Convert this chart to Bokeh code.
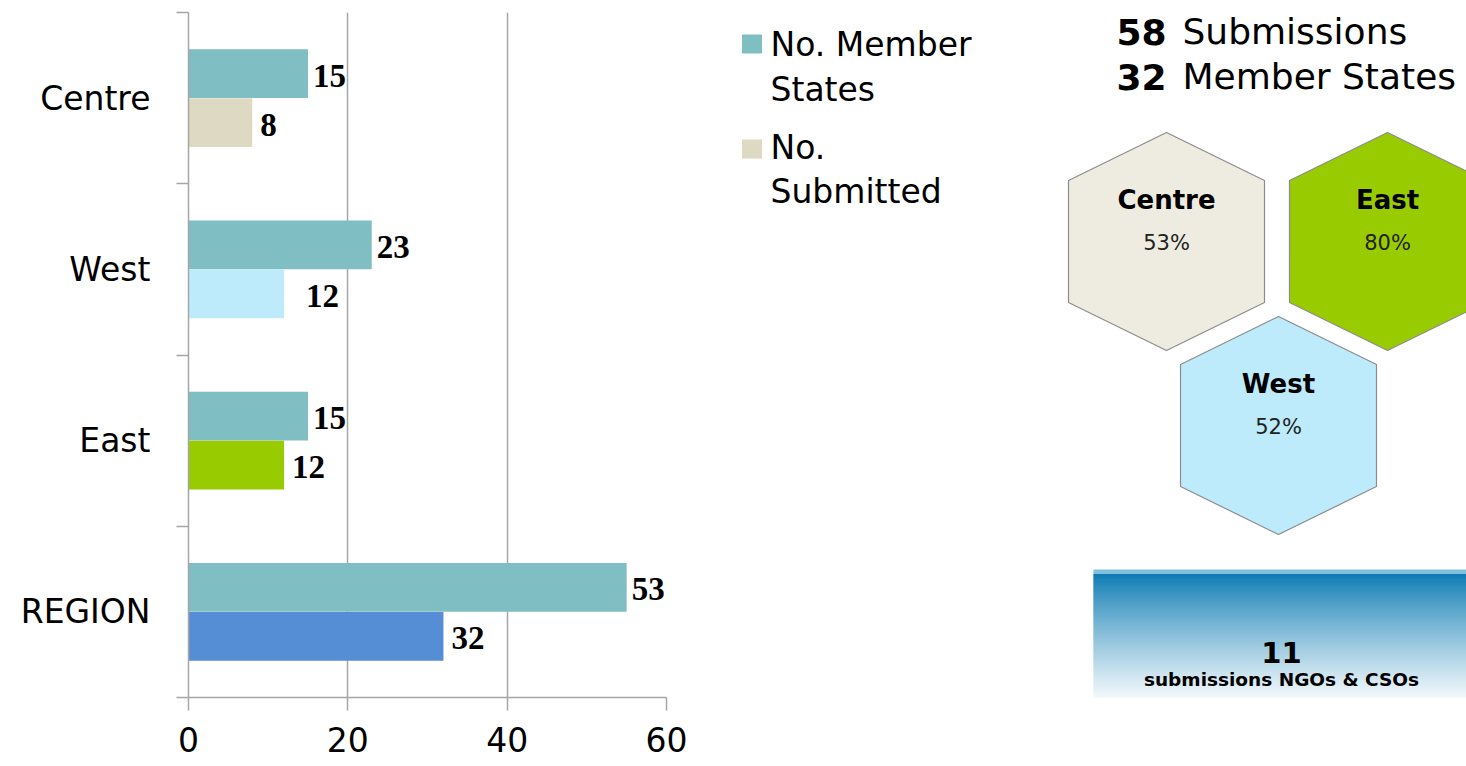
from bokeh.plotting import figure
from bokeh.models import Range1d, FixedTicker, ColumnDataSource, LabelSet
from bokeh.layouts import row
from bokeh.embed import file_html
from bokeh.resources import INLINE
from bokeh.core.properties import value

# ---------------- data ----------------
categories = ["Centre", "West", "East", "REGION"]
member_states = [15, 23, 15, 55]
member_labels = ["15", "23", "15", "53"]
submitted = [8, 12, 12, 32]
submitted_labels = ["8", "12", "12", "32"]
submitted_colors = ["#DDD9C3", "#BDEBFB", "#99CC00", "#558ED5"]
member_color = "#7FBEC2"
x_ticks = [0, 20, 40, 60]
legend_labels = ["No. Member\nStates", "No.\nSubmitted"]
totals_numbers = ["58", "32"]
totals_words = ["Submissions", "Member States"]
hex_regions = ["Centre", "East", "West"]
hex_pcts = ["53%", "80%", "52%"]
hex_colors = ["#EEECE1", "#99CC00", "#BDEBFC"]
ngo_count = ["11"]
ngo_text = ["submissions NGOs & CSOs"]

# ---------------- layout constants ----------------
FONT_NAME = "DejaVu Sans"
FONT = value(FONT_NAME)
GRAY = "#A6A6A6"
n = len(categories)
centers = [n - i - 0.5 for i in range(n)]
BAR_H = 0.285
OFF = 0.143
sub_offsets = [8, 22, 8, 8]
H = 766
TOP_B, BOT_B = 12, 69

# ---------------- bar chart ----------------
p1 = figure(width=708, height=H, x_range=Range1d(0, 60), y_range=Range1d(0, n),
            output_backend="svg", toolbar_location=None,
            min_border_left=188, min_border_right=42, min_border_top=TOP_B,
            min_border_bottom=BOT_B)
p1.outline_line_color = None

src_m = ColumnDataSource(dict(y=[c + OFF for c in centers], right=member_states,
                              label=member_labels, off=[5] * n))
src_s = ColumnDataSource(dict(y=[c - OFF for c in centers], right=submitted,
                              label=submitted_labels, off=sub_offsets, color=submitted_colors))

p1.hbar(y="y", left=0, right="right", height=BAR_H, source=src_m,
        fill_color=member_color, line_color=None)
p1.hbar(y="y", left=0, right="right", height=BAR_H, source=src_s,
        fill_color="color", line_color=None)

for src in (src_m, src_s):
    p1.add_layout(LabelSet(x="right", y="y", text="label", x_offset="off", y_offset=-2,
                           source=src, text_baseline="middle", text_align="left",
                           text_font=value("Liberation Serif"), text_font_style="bold",
                           text_font_size="33px", text_color="black"))

xa = p1.xaxis[0]
xa.ticker = FixedTicker(ticks=x_ticks, minor_ticks=[])
xa.major_tick_out = 13
xa.major_tick_in = 0
xa.minor_tick_out = 0
xa.axis_line_color = GRAY
xa.axis_line_width = 1.5
xa.major_tick_line_color = GRAY
xa.major_tick_line_width = 1.5
xa.major_label_text_font = FONT_NAME
xa.major_label_text_font_size = "33px"
xa.major_label_text_color = "black"
xa.major_label_standoff = 16

ya = p1.yaxis[0]
ya.ticker = FixedTicker(ticks=centers, minor_ticks=list(range(n + 1)))
ya.major_label_overrides = {c: name for c, name in zip(centers, categories)}
ya.major_tick_out = 0
ya.major_tick_in = 0
ya.minor_tick_out = 12
ya.minor_tick_in = 0
ya.minor_tick_line_color = GRAY
ya.minor_tick_line_width = 1.5
ya.axis_line_color = GRAY
ya.axis_line_width = 1.5
ya.major_label_text_font = FONT_NAME
ya.major_label_text_font_size = "33px"
ya.major_label_text_color = "black"
ya.major_label_standoff = 26

p1.xgrid.ticker = FixedTicker(ticks=x_ticks)
p1.xgrid.grid_line_color = GRAY
p1.xgrid.grid_line_width = 1.5
p1.ygrid.grid_line_color = None

# ---------------- right panel (page-pixel coordinates) ----------------
p2 = figure(width=758, height=H, x_range=Range1d(708, 1466), y_range=Range1d(H - BOT_B, TOP_B),
            output_backend="svg", toolbar_location=None,
            x_axis_location=None, y_axis_location=None,
            min_border_left=0, min_border_right=0, min_border_top=TOP_B,
            min_border_bottom=BOT_B)
p2.outline_line_color = None
p2.grid.grid_line_color = None

# legend
p2.rect(x=[751.5, 751.5], y=[43.5, 148.5], width=20, height=19,
        fill_color=[member_color, submitted_colors[0]], line_color=None)
p2.text(x=[770, 770], y=[66.5, 169], text=legend_labels, text_baseline="middle",
        text_align="left", text_font=FONT, text_font_size="33px", text_line_height=1.14,
        text_color="black")

# totals
p2.text(x=[1116, 1116], y=[31, 76], text=totals_numbers, text_baseline="middle",
        text_font=FONT, text_font_style="bold", text_font_size="36px", text_color="black")
p2.text(x=[1182, 1182], y=[31, 76], text=totals_words, text_baseline="middle",
        text_font=FONT, text_font_size="36px", text_color="black")

# hexagons
hex_centers = [(1166, 241), (1387, 241), (1278, 425)]
HW, HT, HS = 98, 109, 61
xs, ys = [], []
for cx, cy in hex_centers:
    xs.append([cx, cx + HW, cx + HW, cx, cx - HW, cx - HW])
    ys.append([cy - HT, cy - HS, cy + HS, cy + HT, cy + HS, cy - HS])
p2.patches(xs=xs, ys=ys, fill_color=hex_colors, line_color="#8C8C8C", line_width=1.2)
p2.text(x=[c[0] for c in hex_centers], y=[c[1] - 42 for c in hex_centers], text=hex_regions,
        text_align="center", text_baseline="middle", text_font=FONT, text_font_style="bold",
        text_font_size="26px", text_color="black")
p2.text(x=[c[0] for c in hex_centers], y=[c[1] + 1 for c in hex_centers], text=hex_pcts,
        text_align="center", text_baseline="middle", text_font=FONT,
        text_font_size="21px", text_color="#222222")

# gradient box
top, bottom = 573, 712
dark = (10, 122, 178)
qt, qb, qc = [], [], []
span = bottom - top
for i in range(span):
    t = min(1.0, (i / span) ** 0.85 * 1.05)
    r, g, b = [int(round(d + (255 - d) * t)) for d in dark]
    qt.append(top + i)
    qb.append(top + i + 1.8)
    qc.append("#%02x%02x%02x" % (r, g, b))
p2.quad(left=1093, right=1470, top=qt, bottom=qb, fill_color=qc, line_color=None)
p2.quad(left=1093, right=1470, top=569, bottom=573, fill_color="#7FC0DD", line_color=None)
p2.text(x=[1281], y=[652], text=ngo_count, text_align="center", text_baseline="middle",
        text_font=FONT, text_font_style="bold", text_font_size="29px", text_color="black")
p2.text(x=[1281], y=[679], text=ngo_text, text_align="center", text_baseline="middle",
        text_font=FONT, text_font_style="bold", text_font_size="18.5px", text_color="black")

layout = row(p1, p2)
open("out.html", "w").write(file_html(layout, INLINE))
